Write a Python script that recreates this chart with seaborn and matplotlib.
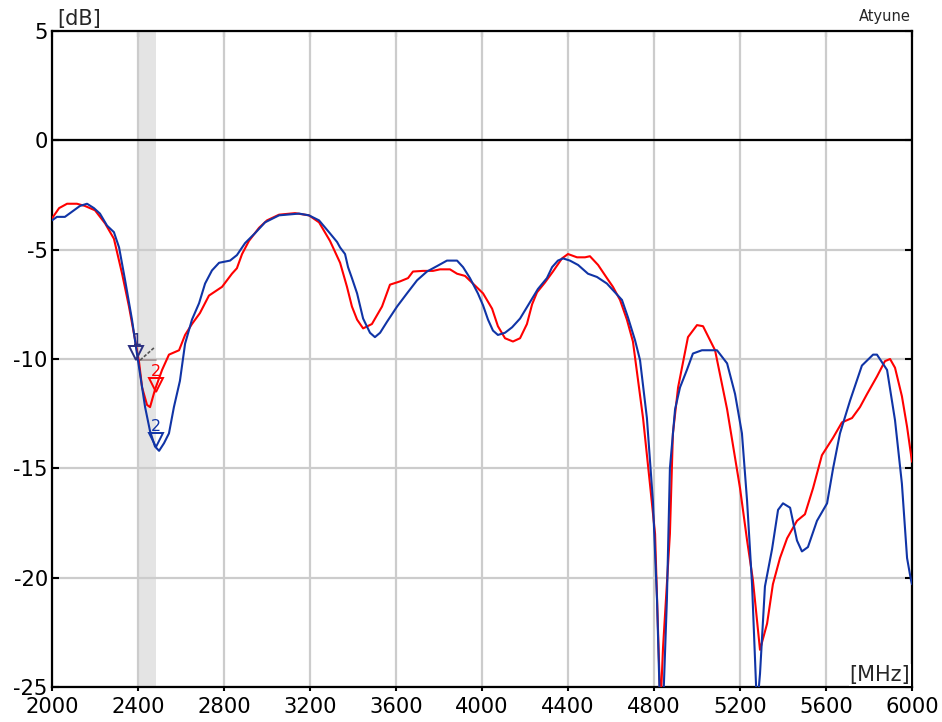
import numpy as np
import pandas as pd
import matplotlib
matplotlib.use("Agg")
import matplotlib.pyplot as plt
import matplotlib.transforms as mtransforms
import seaborn as sns

# ---------------- data ----------------
red_f = [2000, 2033, 2070, 2116, 2153, 2200, 2247, 2288, 2326, 2358, 2386, 2405, 2419, 2442,
         2456, 2479, 2512, 2544, 2591, 2619, 2651, 2688, 2730, 2791, 2837, 2860, 2884, 2916,
         2963, 3000, 3056, 3130, 3195, 3242, 3293, 3340, 3372, 3395, 3419, 3447, 3488, 3535,
         3572, 3619, 3656, 3679, 3726, 3772, 3805, 3851, 3884, 3921, 3958, 4005, 4047, 4074,
         4107, 4144, 4177, 4209, 4233, 4256, 4293, 4330, 4372, 4400, 4442, 4479, 4502, 4540,
         4581, 4609, 4642, 4674, 4702, 4749, 4781, 4805, 4819, 4830, 4842, 4874, 4888, 4912,
         4958, 5000, 5028, 5084, 5140, 5200, 5233, 5260, 5293, 5326, 5353, 5386, 5419, 5465,
         5502, 5540, 5581, 5633, 5674, 5721, 5758, 5791, 5837, 5874, 5898, 5921, 5953, 5977,
         6000]
red_db = [-3.57, -3.1, -2.9, -2.9, -3.0, -3.2, -3.8, -4.5, -6.1, -7.6, -9.1, -10.15, -11.3, -12.1,
          -12.2, -11.4, -10.5, -9.8, -9.6, -8.9, -8.4, -7.9, -7.1, -6.7, -6.1, -5.85, -5.2, -4.6,
          -4.0, -3.66, -3.4, -3.33, -3.43, -3.75, -4.6, -5.6, -6.7, -7.6, -8.2, -8.6, -8.4, -7.6,
          -6.6, -6.45, -6.3, -6.0, -5.97, -5.97, -5.9, -5.9, -6.1, -6.2, -6.55, -7.0, -7.7, -8.5,
          -9.05, -9.2, -9.05, -8.4, -7.5, -6.95, -6.5, -6.0, -5.4, -5.2, -5.35, -5.35, -5.3, -5.7,
          -6.3, -6.7, -7.3, -8.2, -9.2, -12.7, -15.7, -18.0, -22.5, -26.0, -23.2, -18.0, -13.4, -11.3,
          -9.0, -8.45, -8.5, -9.6, -12.3, -15.9, -18.3, -20.1, -23.3, -22.1, -20.3, -19.1, -18.2, -17.4,
          -17.1, -15.9, -14.4, -13.6, -12.9, -12.7, -12.2, -11.6, -10.8, -10.1, -10.0, -10.4, -11.7, -13.1,
          -14.7]

blue_f = [2000, 2023, 2060, 2102, 2130, 2163, 2195, 2223, 2256, 2288, 2312, 2340, 2372, 2395,
          2409, 2433, 2456, 2479, 2498, 2521, 2544, 2567, 2595, 2619, 2651, 2684, 2712, 2744,
          2777, 2828, 2860, 2898, 2944, 2991, 3056, 3149, 3195, 3242, 3290, 3326, 3340, 3363,
          3377, 3395, 3419, 3447, 3479, 3502, 3526, 3558, 3605, 3651, 3698, 3744, 3791, 3837,
          3884, 3912, 3944, 3981, 4005, 4028, 4051, 4074, 4107, 4140, 4177, 4214, 4260, 4302,
          4326, 4353, 4377, 4409, 4447, 4493, 4535, 4581, 4609, 4651, 4679, 4712, 4735, 4767,
          4795, 4814, 4828, 4842, 4860, 4874, 4898, 4921, 4953, 4981, 5023, 5093, 5140, 5177,
          5209, 5233, 5256, 5279, 5293, 5316, 5349, 5377, 5400, 5433, 5465, 5488, 5516, 5558,
          5605, 5633, 5665, 5712, 5767, 5819, 5837, 5884, 5921, 5953, 5977, 5995, 6000]
blue_db = [-3.66, -3.5, -3.5, -3.2, -3.0, -2.9, -3.1, -3.35, -3.9, -4.2, -4.9, -6.4, -8.2, -9.75,
           -10.65, -12.2, -13.3, -14.0, -14.2, -13.85, -13.4, -12.2, -11.0, -9.3, -8.2, -7.45, -6.55, -5.95,
           -5.6, -5.5, -5.25, -4.7, -4.25, -3.75, -3.43, -3.35, -3.43, -3.66, -4.22, -4.65, -4.9, -5.2,
           -5.8, -6.3, -7.0, -8.15, -8.8, -9.0, -8.8, -8.3, -7.6, -7.0, -6.4, -6.0, -5.75, -5.5,
           -5.5, -5.8, -6.3, -7.0, -7.55, -8.2, -8.7, -8.9, -8.8, -8.55, -8.15, -7.55, -6.8, -6.3,
           -5.8, -5.5, -5.4, -5.5, -5.7, -6.1, -6.25, -6.55, -6.85, -7.3, -8.1, -9.15, -10.05, -12.7,
           -16.5, -21.0, -26.0, -26.0, -21.0, -15.0, -12.3, -11.3, -10.5, -9.75, -9.6, -9.6, -10.2, -11.6,
           -13.4, -16.5, -20.3, -26.0, -24.4, -20.4, -18.7, -16.9, -16.6, -16.8, -18.3, -18.8, -18.6, -17.4,
           -16.6, -15.0, -13.4, -11.9, -10.3, -9.8, -9.8, -10.5, -12.8, -15.7, -19.1, -20.1, -20.3]

band = [2400, 2484]
marker_label = ["1", "2", "2"]
marker_f = [2400, 2484, 2484]
marker_db = [-10.05, -11.5, -14.0]
marker_color = ["#2a2f80", "#ff0000", "#1034a6"]

x_ticks = [2000, 2400, 2800, 3200, 3600, 4000, 4400, 4800, 5200, 5600, 6000]
y_ticks = [5, 0, -5, -10, -15, -20, -25]

RED = "#ff0000"
BLUE = "#1034a6"

df = pd.concat([
    pd.DataFrame({"f": red_f, "db": red_db, "trace": "A"}),
    pd.DataFrame({"f": blue_f, "db": blue_db, "trace": "B"}),
])

# ---------------- figure ----------------
sns.set_style("white")
plt.rcParams["font.family"] = ["DejaVu Sans"]

fig = plt.figure(figsize=(9.42, 7.22), dpi=100)
ax = fig.add_axes([52 / 942, 35 / 722, 860 / 942, 656 / 722])

ax.axvspan(band[0], band[1], color="#e4e4e4", zorder=0, lw=0)

sns.lineplot(data=df, x="f", y="db", hue="trace", palette={"A": RED, "B": BLUE},
             sort=False, estimator=None, lw=1.5, legend=False, ax=ax, zorder=3)

ax.set_xlim(2000, 6000)
ax.set_ylim(-25, 5)
ax.set_xticks(x_ticks)
ax.set_yticks(y_ticks)
ax.set_xticklabels([str(t) for t in x_ticks], fontsize=15.2)
ax.set_yticklabels([str(t) for t in y_ticks], fontsize=15.2)
ax.set_xlabel("")
ax.set_ylabel("")

ax.grid(True, color="#cccccc", lw=1.6, zorder=1)
ax.set_axisbelow(True)
ax.axhline(0, color="black", lw=1.6, zorder=2)

for s in ax.spines.values():
    s.set_color("black")
    s.set_linewidth(1.6)

ax.tick_params(axis="x", which="major", direction="out", length=3, width=1.5,
               top=False, bottom=True, pad=4, colors="black")
ax.tick_params(axis="y", which="major", direction="in", length=5, width=1.5,
               left=True, right=True, pad=3, colors="black")
# inward ticks along the top edge
sec = ax.secondary_xaxis("top")
sec.set_xticks(x_ticks)
sec.set_xticklabels([])
sec.tick_params(direction="in", length=4, width=1.5, colors="black")
sec.spines["top"].set_visible(False)

# marker 1 reference line across the band
ax.plot(band, [marker_db[0], marker_db[0]], color="#a09090", lw=1.2, zorder=2)
ax.plot([band[0] + 10, band[1] - 5], [marker_db[0], marker_db[0] + 0.6],
        color="#555555", lw=1.2, ls=(0, (2, 1)), zorder=4)

# markers (triangle tip sits on the value)
for lab, f, v, c in zip(marker_label, marker_f, marker_db, marker_color):
    xo = -1.5 if lab == "1" else 0
    ax.plot([f], [v], marker="v", ms=10.5, mfc="none", mec=c, mew=1.4,
            transform=mtransforms.offset_copy(ax.transData, fig=fig, x=xo, y=5, units="points"),
            zorder=5)
    ax.text(f, v, lab, color=c, fontsize=11.5, ha="center", va="bottom",
            transform=mtransforms.offset_copy(ax.transData, fig=fig, x=xo, y=9, units="points"),
            zorder=5)

ax.text(0.006, 1.003, "[dB]", transform=ax.transAxes, fontsize=15,
        ha="left", va="bottom")
ax.text(0.998, 0.003, "[MHz]", transform=ax.transAxes, fontsize=15,
        ha="right", va="bottom", bbox=dict(fc="white", ec="none", pad=0.5), zorder=6)
ax.text(0.998, 1.01, "Atyune", transform=ax.transAxes, fontsize=10.5,
        ha="right", va="bottom")

fig.savefig("out.png", dpi=100)
